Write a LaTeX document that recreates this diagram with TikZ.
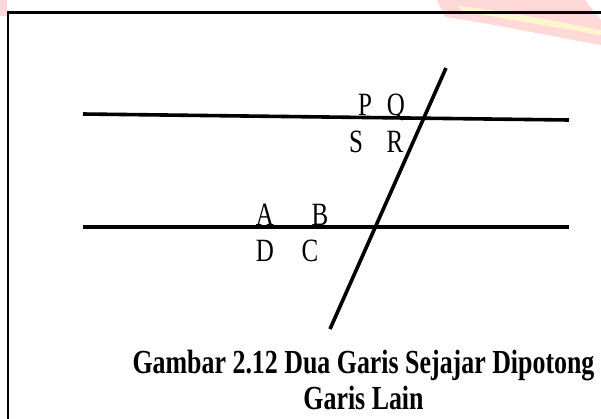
\documentclass[tikz,border=0pt]{standalone}
\usepackage{fontspec}
\setmainfont{Liberation Serif}
\begin{document}
\begin{tikzpicture}[x=1pt,y=-1pt,
  geoline/.style={line width=3.6pt},
  lbl/.style={font=\fontsize{25}{28}\selectfont, inner sep=0pt, anchor=base},
  captext/.style={font=\bfseries\fontsize{25.9}{30}\selectfont, inner sep=0pt, anchor=base}]
\useasboundingbox (0,0) rectangle (601,418);
% watermark
\fill[red!55!white, opacity=0.28] (437,0) -- (585,0) -- (601,20) -- (601,45) .. controls (560,38) and (500,25) .. (445,17) -- cycle;
\fill[yellow!20!white, opacity=0.8] (458,6) .. controls (500,10) and (560,22) .. (601,30) -- (601,35) .. controls (560,28) and (500,18) .. (462,11) -- cycle;
\fill[red!60!white, opacity=0.25] (0,0) rectangle (7,16);
% frame
\draw[line width=2.2pt] (8,420) -- (8,12.5) -- (603,12.5);
% lines
\coordinate (t1) at (83,114);
\coordinate (t2) at (569,120);
\coordinate (b1) at (83,227);
\coordinate (b2) at (569,227);
\coordinate (x1) at (446,68);
\coordinate (x2) at (330,329);
\draw[geoline] (t1) -- (t2);
\draw[geoline] (b1) -- (b2);
\draw[geoline] (x1) -- (x2);
% labels
\node[lbl] (P) at (365,115.5) {\scalebox{1}[1.3]{P}};
\node[lbl] (Q) at (396,115.5) {\scalebox{1}[1.3]{Q}};
\node[lbl] (S) at (356,152) {\scalebox{1}[1.3]{S}};
\node[lbl] (R) at (395,152) {\scalebox{1}[1.3]{R}};
\node[lbl] (A) at (265,225) {\scalebox{1}[1.3]{A}};
\node[lbl] (B) at (320,225) {\scalebox{1}[1.3]{B}};
\node[lbl] (D) at (265,261) {\scalebox{1}[1.3]{D}};
\node[lbl] (C) at (310,261) {\scalebox{1}[1.3]{C}};
% caption
\node[captext] (cap1) at (363.5,373) {\scalebox{1}[1.3]{Gambar 2.12 Dua Garis Sejajar Dipotong}};
\node[captext] (cap2) at (363.5,409) {\scalebox{1}[1.3]{Garis Lain}};
\end{tikzpicture}
\end{document}
